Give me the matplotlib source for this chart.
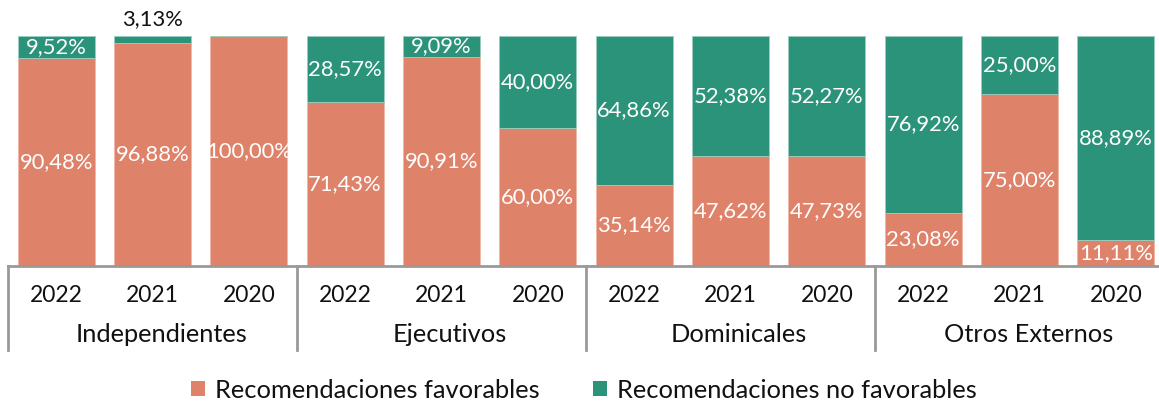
import matplotlib
matplotlib.use("Agg")
import matplotlib.pyplot as plt
from matplotlib.patches import Patch
import matplotlib.transforms as mtransforms

plt.rcParams['font.family'] = ['Lato', 'DejaVu Sans']

groups = ["Independientes", "Ejecutivos", "Dominicales", "Otros Externos"]
years = ["2022", "2021", "2020"]
favorables = [90.48, 96.88, 100.00, 71.43, 90.91, 60.00, 35.14, 47.62, 47.73, 23.08, 75.00, 11.11]
no_favorables = [9.52, 3.13, 0.00, 28.57, 9.09, 40.00, 64.86, 52.38, 52.27, 76.92, 25.00, 88.89]
series_names = ["Recomendaciones favorables", "Recomendaciones no favorables"]

c_fav = "#DF826A"
c_nofav = "#2C937B"

W, H = 1159, 401
fig = plt.figure(figsize=(W / 100, H / 100), dpi=100)
ax = fig.add_axes([8 / W, 1 - 266 / H, (1164 - 8) / W, 230 / H])

x = list(range(len(favorables)))
ax.bar(x, favorables, width=0.8, color=c_fav, edgecolor="#F0B8A8", linewidth=0.6)
ax.bar(x, no_favorables, width=0.8, bottom=favorables, color=c_nofav, edgecolor="#9CCFC1", linewidth=0.6)

def fmt(v):
    return f"{v:.2f}".replace(".", ",") + "%"

fs_pct = 15.8
fs_year = 16.5
fs_text = 18.3
for i, (f, n) in enumerate(zip(favorables, no_favorables)):
    if f > 0:
        ax.text(i, f / 2, fmt(f), ha="center", va="center", color="white", fontsize=fs_pct)
    if n >= 5:
        ax.text(i, f + n / 2, fmt(n), ha="center", va="center", color="white", fontsize=fs_pct)
    elif n > 0:
        ax.text(i, 100 + 7.5, fmt(n), ha="center", va="center", color="#111111", fontsize=fs_pct)

ax.set_xlim(-0.5, 11.5)
ax.set_ylim(0, 100)
for s in ["top", "right", "left"]:
    ax.spines[s].set_visible(False)
ax.spines["bottom"].set_color("#999999")
ax.spines["bottom"].set_linewidth(2)
ax.set_yticks([])
ax.set_xticks([])

trans = mtransforms.blended_transform_factory(ax.transData, ax.transAxes)
for i in x:
    ax.text(i, -0.13, years[i % 3], transform=trans, ha="center", va="center",
            fontsize=fs_year, color="#111111")
for g, name in enumerate(groups):
    ax.text(g * 3 + 1.09, -0.30, name, transform=trans, ha="center", va="center",
            fontsize=fs_text, color="#111111")
for g in range(len(groups)):
    ax.plot([g * 3 - 0.5, g * 3 - 0.5], [0, -0.365], transform=trans, color="#999999",
            lw=2, clip_on=False)

handles = [Patch(facecolor=c_fav), Patch(facecolor=c_nofav)]
fig.legend(handles, series_names, loc="center", bbox_to_anchor=(0.504, 1 - 390 / H),
           ncol=2, frameon=False, fontsize=fs_text, handlelength=0.55, handleheight=0.55,
           handletextpad=0.4, columnspacing=2.1, labelcolor="#111111")

fig.savefig("out.png", dpi=100)
